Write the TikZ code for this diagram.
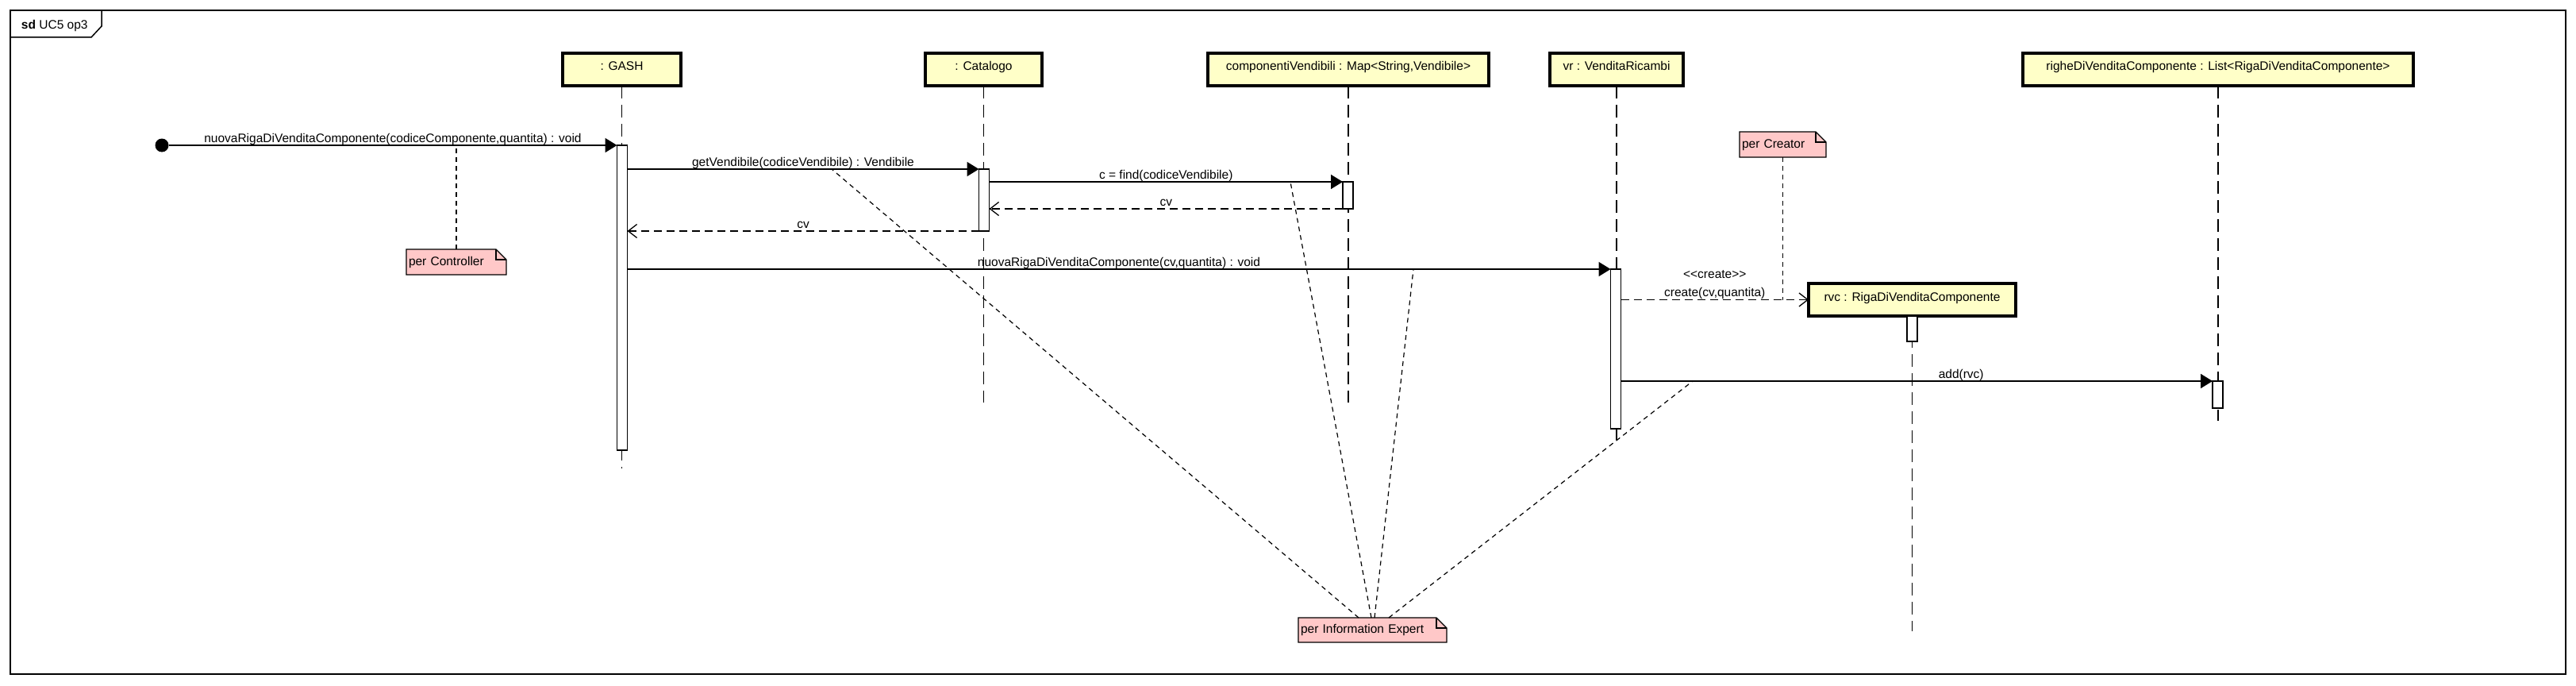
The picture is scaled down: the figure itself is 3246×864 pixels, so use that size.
\documentclass[tikz,border=0pt]{standalone}
\usepackage{fontspec}
\setmainfont{Liberation Sans}
\usetikzlibrary{arrows.meta,backgrounds}
\definecolor{objyellow}{RGB}{255,255,200}
\definecolor{notepink}{RGB}{255,200,200}
\newcommand{\umlnoteshape}[1]{%
  \filldraw[fill=notepink, line width=1.3pt] (#1.north west) -- ([xshift=-13pt]#1.north east) -- ([yshift=-13pt]#1.north east) -- (#1.south east) -- (#1.south west) -- cycle;
  \draw[line width=1.3pt] ([xshift=-13pt]#1.north east) -- ([xshift=-13pt,yshift=-13pt]#1.north east) -- ([yshift=-13pt]#1.north east);}
\begin{document}
\begin{tikzpicture}[x=1pt,y=-1pt,
  font=\fontsize{15.5pt}{18pt}\selectfont,
  every node/.style={outer sep=0pt},
  objbox/.style={draw, line width=3.3pt, fill=objyellow, minimum height=41pt, inner sep=0pt, text height=11pt, text depth=8pt},
  actbox/.style={draw, line width=1.3pt, fill=white, minimum width=13pt, inner sep=0pt},
  lifeline/.style={line width=1.2pt, dash pattern=on 16pt off 8pt},
  msg/.style={line width=1.7pt, -{Triangle[length=15pt,width=18pt]}},
  ret/.style={line width=1.5pt, dash pattern=on 10pt off 6pt, -{Straight Barb[length=11pt,width=17pt,line width=1.3pt]}},
  lbl/.style={above, inner sep=1pt, text height=11pt, text depth=3pt},
  notebox/.style={inner xsep=3pt, inner ysep=0pt, align=left, text height=11pt, text depth=3pt},
  notelink/.style={line width=1.2pt, dash pattern=on 6pt off 5pt},
]
\useasboundingbox (0,0) rectangle (3246,864);

% frame
\draw[line width=1.5pt] (13,13) rectangle (3233,849);
\draw[line width=1.5pt] (13,47) -- (115,47) -- (128,33) -- (128,13);
\node[anchor=west, inner sep=0pt] (title) at (27,32) {\textbf{sd} UC5 op3};

% objects
\node[objbox, minimum width=149pt] (gash) at (783.5,87.5) {: GASH};
\node[objbox, minimum width=147pt] (cat) at (1239.5,87.5) {: Catalogo};
\node[objbox, minimum width=354pt] (cvm) at (1699,87.5) {componentiVendibili : Map<String,Vendibile>};
\node[objbox, minimum width=168pt] (vr) at (2037,87.5) {vr : VenditaRicambi};
\node[objbox, minimum width=492pt] (righe) at (2795,87.5) {righeDiVenditaComponente : List<RigaDiVenditaComponente>};
\node[objbox, minimum width=261pt] (rvc) at (2409.5,377.5) {rvc : RigaDiVenditaComponente};

% lifelines
\coordinate (gashEnd) at (783.5,590);
\coordinate (catEnd) at (1239.5,507);
\coordinate (cvmEnd) at (1699,507);
\coordinate (vrEnd) at (2037,554);
\coordinate (rvcEnd) at (2409.5,795);
\coordinate (righeEnd) at (2795,530);
\draw[lifeline] (gash.south) -- (gashEnd);
\draw[lifeline] (cat.south) -- (catEnd);
\draw[lifeline] (cvm.south) -- (cvmEnd);
\draw[lifeline] (vr.south) -- (vrEnd);
\draw[lifeline] (rvc.south) -- (rvcEnd);
\draw[lifeline] (righe.south) -- (righeEnd);

% activations
\node[actbox, minimum height=384pt] (gashA) at (784,375) {};
\node[actbox, minimum height=78pt] (catA) at (1240,252) {};
\node[actbox, minimum height=34pt] (cvmA) at (1698.5,246) {};
\node[actbox, minimum height=201pt] (vrA) at (2036,439.5) {};
\node[actbox, minimum height=32pt] (rvcA) at (2409.5,414) {};
\node[actbox, minimum height=34pt] (righeA) at (2794.5,497) {};

% messages
\node[circle, fill=black, minimum size=17pt, inner sep=0pt] (start) at (204,183) {};
\draw[msg] (start) -- (gashA.north west) node[lbl, midway] {nuovaRigaDiVenditaComponente(codiceComponente,quantita) : void};
\draw[msg] (gashA.east |- catA.north) -- (catA.north west) node[lbl, midway] {getVendibile(codiceVendibile) : Vendibile};
\draw[msg] (catA.east |- cvmA.north) -- (cvmA.north west) node[lbl, midway] {c = find(codiceVendibile)};
\draw[ret] (cvmA.south west) -- (catA.east |- cvmA.south) node[lbl, midway] {cv};
\draw[ret] (catA.south west) -- (gashA.east |- catA.south) node[lbl, midway] {cv};
\draw[msg] (gashA.east |- vrA.north) -- (vrA.north west) node[lbl, midway] {nuovaRigaDiVenditaComponente(cv,quantita) : void};
\draw[ret] (vrA.east |- rvc.west) -- (rvc.west) node[lbl, midway] (crl) {create(cv,quantita)} node[lbl, midway, yshift=23pt] (crs) {<\kern0pt<create>\kern0pt>};
\draw[msg] (vrA.east |- righeA.north) -- (righeA.north west) node[lbl, pos=0.575] {add(rvc)};

% notes
\node[notebox, text width=120pt, minimum height=32pt] (nctrl) at (575,330) {per Controller};
\node[notebox, text width=103pt, minimum height=32pt] (ncreat) at (2246.5,182) {per Creator};
\node[notebox, text width=181pt, minimum height=31pt] (nexp) at (1729.5,793.5) {per Information Expert};

\coordinate (c1) at (575,183);
\coordinate (c2) at (2246.5,377.5);
\coordinate (e1) at (1048,213);
\coordinate (e2) at (1626,229);
\coordinate (e3) at (1781,339);
\coordinate (e4) at (2133,480);
\draw[notelink] (nctrl.north) -- (c1);
\draw[notelink] (ncreat.south) -- (c2);
\draw[notelink] ([xshift=-17.5pt]nexp.north) -- (e1);
\draw[notelink] ([xshift=-1.5pt]nexp.north) -- (e2);
\draw[notelink] ([xshift=2.5pt]nexp.north) -- (e3);
\draw[notelink] ([xshift=20.5pt]nexp.north) -- (e4);

\begin{scope}[on background layer]
  \fill[white] (0,0) rectangle (3246,864);
  \umlnoteshape{nctrl}
  \umlnoteshape{ncreat}
  \umlnoteshape{nexp}
\end{scope}
\end{tikzpicture}
\end{document}
